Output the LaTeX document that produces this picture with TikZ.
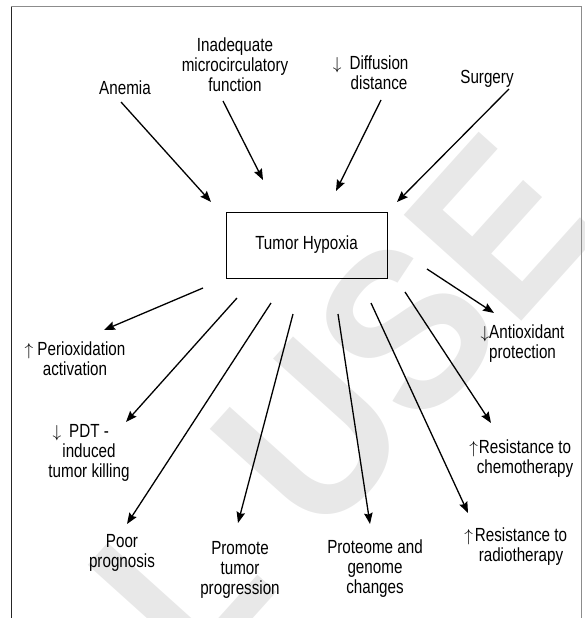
\documentclass[tikz,border=0pt]{standalone}
\usepackage{fontspec}
\setmainfont{Liberation Sans}[FakeStretch=0.8]
\newfontfamily\wmfont{Liberation Sans}[FakeStretch=0.9]
\usetikzlibrary{arrows.meta}
\newcommand{\upar}{\(\uparrow\)}
\newcommand{\dnar}{\(\downarrow\)}
\begin{document}
\begin{tikzpicture}[x=1pt,y=-1pt,
  lbl/.style={font=\fontsize{19}{20}\selectfont, align=center, inner sep=0pt},
  arr/.style={line width=1.3pt, -{Stealth[length=11pt,width=8.5pt,inset=1.5pt]}},
  hyp/.style={draw, line width=1pt, minimum width=161pt, minimum height=66pt, inner sep=0pt, font=\fontsize{19}{20}\selectfont}]
\useasboundingbox (0,0) rectangle (585,618);
% watermark
\node[rotate=48, text=black!9, font=\wmfont\bfseries\fontsize{230}{230}\selectfont, inner sep=0pt] (wm) at (342,402) {L USE};
% frame
\draw[line width=1pt, black!85] (11,7) -- (11,618);
\draw[line width=1pt, black!45] (11,7) -- (581,7) -- (581,618);
% central box
\node[hyp] (box) at (306.5,245) {Tumor Hypoxia};
% causes
\node[lbl] (anemia) at (125,88) {Anemia};
\node[lbl] (inad) at (235,65) {Inadequate\\microcirculatory\\function};
\node[lbl] (diff) at (379,73) {\makebox[0pt][r]{\dnar\hspace{8pt}}Diffusion\\distance};
\node[lbl] (surg) at (487,79) {Surgery};
% effects
\node[lbl] (perox) at (75,359) {\upar\ Perioxidation\\activation};
\node[lbl] (pdt) at (89,453) {\makebox[0pt][r]{\dnar\hspace{8pt}}PDT -\\induced\\tumor killing};
\node[lbl] (poor) at (122,553) {Poor\\prognosis};
\node[lbl] (prom) at (240,570) {Promote\\tumor\\progression};
\node[lbl] (prot) at (375,569) {Proteome and\\genome\\changes};
\node[lbl, align=left, anchor=west] (antiox) at (489,344) {\makebox[0pt][r]{\dnar}Antioxidant\\protection};
\node[lbl] (chemo) at (525,459) {\makebox[0pt][r]{\upar\hspace{1pt}}Resistance to\\chemotherapy};
\node[lbl] (radio) at (521,547) {\makebox[0pt][r]{\upar\hspace{2pt}}Resistance to\\radiotherapy};
% connector end points
\coordinate (s1) at (121,102);  \coordinate (e1) at (211,202);
\coordinate (s2) at (223,101);  \coordinate (e2) at (263,180);
\coordinate (s3) at (381,100);  \coordinate (e3) at (336,191);
\coordinate (s4) at (509,89);   \coordinate (e4) at (397,202);
\coordinate (s5) at (203,288);  \coordinate (e5) at (104,330);
\coordinate (s6) at (237,298);  \coordinate (e6) at (126,422);
\coordinate (s7) at (271,303);  \coordinate (e7) at (127,524);
\coordinate (s8) at (293,314);  \coordinate (e8) at (238,523);
\coordinate (s9) at (338,314);  \coordinate (e9) at (370,524);
\coordinate (s10) at (371,303); \coordinate (e10) at (468,513);
\coordinate (s11) at (405,292); \coordinate (e11) at (491,423);
\coordinate (s12) at (427,269); \coordinate (e12) at (494,313);
\foreach \i in {1,...,12} {\draw[arr] (s\i) -- (e\i);}
\end{tikzpicture}
\end{document}
